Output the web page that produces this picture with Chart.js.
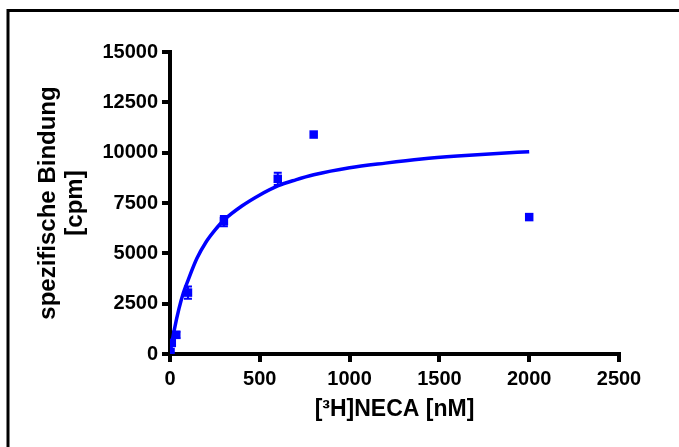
<!DOCTYPE html>
<html>
<head>
<meta charset="utf-8">
<script src="https://cdn.jsdelivr.net/npm/chart.js@4"></script>
<style>
    html, body { margin: 0; padding: 0; background: #ffffff; }
    #wrap { width: 679px; height: 447px; }
</style>
</head>
<body>
<div id="wrap"><canvas id="bindingChart" width="679" height="447"></canvas></div>
<script>
// Messwerte (Mittelwert und SEM)
const concentration = [3, 10, 35, 100, 300, 600, 800, 2000];
const binding = [100, 550, 950, 3050, 6600, 8700, 10900, 6800];
const bindingSem = [0, 0, 150, 300, 250, 300, 0, 0];

// Angepasste Sättigungskurve
const fitX = [0, 10, 25, 50, 75, 100, 150, 200, 250, 300, 400, 500, 600, 700, 800, 1000, 1200, 1400, 1600, 1800, 2000];
const fitY = [0, 520, 1250, 2250, 3050, 3650, 4750, 5550, 6150, 6650, 7350, 7900, 8350, 8650, 8900, 9250, 9480, 9680, 9830, 9950, 10050];

// Achsen
const xTicks = [0, 500, 1000, 1500, 2000, 2500];
const yTicks = [0, 2500, 5000, 7500, 10000, 12500, 15000];

const BLUE = '#0000ff';
const FONT = "Arial, 'Liberation Sans', sans-serif";

// Fehlerbalken aus den SEM-Werten
const errorBars = {
    id: 'errorBars',
    afterDatasetsDraw(chart) {
        const { ctx, scales: { x, y } } = chart;
        ctx.save();
        ctx.strokeStyle = BLUE;
        ctx.lineWidth = 2;
        concentration.forEach((c, i) => {
            const sem = bindingSem[i];
            if (!sem) return;
            const px = x.getPixelForValue(c);
            const top = y.getPixelForValue(binding[i] + sem);
            const bottom = y.getPixelForValue(binding[i] - sem);
            ctx.beginPath();
            ctx.moveTo(px, top);
            ctx.lineTo(px, bottom);
            ctx.moveTo(px - 4, top);
            ctx.lineTo(px + 4, top);
            ctx.moveTo(px - 4, bottom);
            ctx.lineTo(px + 4, bottom);
            ctx.stroke();
        });
        ctx.restore();
    }
};

// Rahmen um die Grafik
const frame = {
    id: 'frame',
    afterDraw(chart) {
        const ctx = chart.ctx;
        ctx.save();
        ctx.strokeStyle = '#000000';
        ctx.lineWidth = 3;
        ctx.strokeRect(8, 10.5, 720, 500);
        ctx.restore();
    }
};

const ctx = document.getElementById('bindingChart').getContext('2d');

new Chart(ctx, {
    type: 'scatter',
    data: {
        datasets: [
            {
                type: 'line',
                data: fitX.map((v, i) => ({ x: v, y: fitY[i] })),
                borderColor: BLUE,
                borderWidth: 3.5,
                pointRadius: 0,
                fill: false,
                cubicInterpolationMode: 'monotone'
            },
            {
                data: concentration.map((v, i) => ({ x: v, y: binding[i] })),
                pointStyle: 'rect',
                pointRadius: 6,
                backgroundColor: BLUE,
                borderColor: BLUE,
                borderWidth: 0
            }
        ]
    },
    options: {
        responsive: false,
        animation: false,
        layout: {
            padding: { left: 0, right: 60, top: 52, bottom: 0 }
        },
        plugins: {
            legend: { display: false },
            tooltip: { enabled: false }
        },
        scales: {
            x: {
                type: 'linear',
                min: 0,
                max: 2500,
                afterFit(scale) { scale.height = 93; },
                afterBuildTicks(scale) { scale.ticks = xTicks.map(v => ({ value: v })); },
                grid: {
                    drawOnChartArea: false,
                    drawTicks: true,
                    tickLength: 8,
                    lineWidth: 4,
                    color: '#000000'
                },
                border: { display: true, color: '#000000', width: 4 },
                ticks: {
                    color: '#000000',
                    padding: 5,
                    font: { family: FONT, size: 20, weight: 'bold' },
                    callback: v => String(v)
                },
                title: {
                    display: true,
                    text: '[³H]NECA [nM]',
                    color: '#000000',
                    font: { family: FONT, size: 23, weight: 'bold' },
                    padding: { top: 0, bottom: 24 }
                }
            },
            y: {
                type: 'linear',
                min: 0,
                max: 15000,
                afterFit(scale) { scale.width = 170; },
                afterBuildTicks(scale) { scale.ticks = yTicks.map(v => ({ value: v })); },
                grid: {
                    drawOnChartArea: false,
                    drawTicks: true,
                    tickLength: 8,
                    lineWidth: 4,
                    color: '#000000'
                },
                border: { display: true, color: '#000000', width: 4 },
                ticks: {
                    color: '#000000',
                    padding: 4,
                    font: { family: FONT, size: 20, weight: 'bold' },
                    callback: v => String(v)
                },
                title: {
                    display: true,
                    text: ['spezifische Bindung', '[cpm]'],
                    color: '#000000',
                    font: { family: FONT, size: 24, weight: 'bold', lineHeight: '27px' },
                    padding: { top: 35, bottom: 0 }
                }
            }
        }
    },
    plugins: [errorBars, frame]
});
</script>
</body>
</html>
